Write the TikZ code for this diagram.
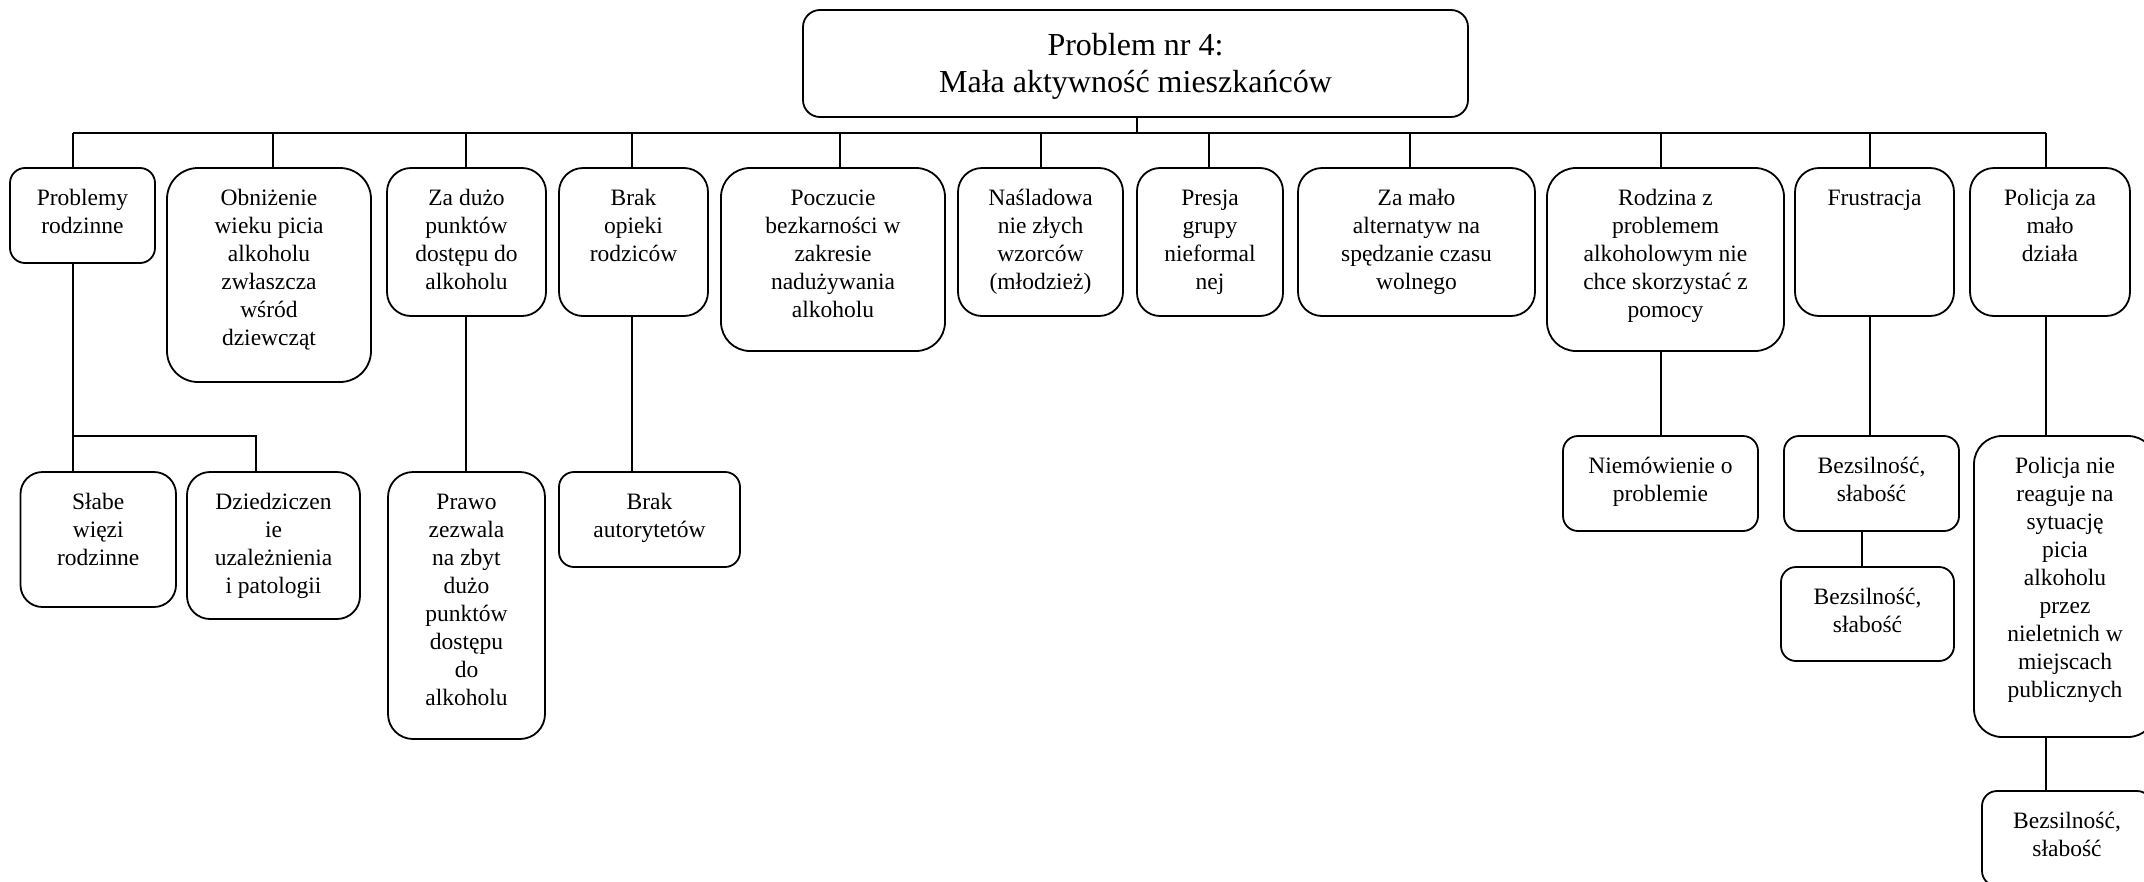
\documentclass[tikz,border=0pt]{standalone}
\usepackage{fontspec}
\setmainfont{Liberation Serif}
\tikzset{
  bx/.style={draw, line width=1.8pt, rounded corners=#1, inner sep=0pt, fill=white,
             font=\fontsize{23.5}{28}\selectfont},
  bx/.default=15pt,
  conn/.style={line width=1.5pt}
}
\newcommand{\bxn}[7]{%
  \node[bx=#7pt] (#1) at ({(#2+#4)/2},{(#3+#5)/2})
   {\parbox[c][\dimexpr #5pt-#3pt\relax][t]{\dimexpr #4pt-#2pt\relax}{\centering\rule{0pt}{37pt}#6}};}
\begin{document}
\begin{tikzpicture}[x=1pt,y=-1pt]
\useasboundingbox (0,0) rectangle (2144,881);
\clip (0,0) rectangle (2144,881);
% top
\node[bx=17pt, font=\fontsize{32}{37}\selectfont] (T) at ({(803+1468)/2},{(10+117)/2})
  {\parbox[c][107pt][t]{665pt}{\centering\rule{0pt}{45pt}Problem nr 4:\\Mała aktywność mieszkańców}};
% level 1
\bxn{b1}{10}{168}{155}{263}{Problemy\\rodzinne}{15}
\bxn{b2}{167}{168}{371}{382}{Obniżenie\\wieku picia\\alkoholu\\zwłaszcza\\wśród\\dziewcząt}{31}
\bxn{b3}{387}{168}{546}{316}{Za dużo\\punktów\\dostępu do\\alkoholu}{24}
\bxn{b4}{559}{168}{708}{316}{Brak\\opieki\\rodziców}{24}
\bxn{b5}{721}{168}{945}{351}{Poczucie\\bezkarności w\\zakresie\\nadużywania\\alkoholu}{29}
\bxn{b6}{958}{168}{1123}{316}{Naśladowa\\nie złych\\wzorców\\(młodzież)}{24}
\bxn{b7}{1137}{168}{1283}{316}{Presja\\grupy\\nieformal\\nej}{23}
\bxn{b8}{1298}{168}{1535}{316}{Za mało\\alternatyw na\\spędzanie czasu\\wolnego}{24}
\bxn{b9}{1547}{168}{1784}{351}{Rodzina z\\problemem\\alkoholowym nie\\chce skorzystać z\\pomocy}{29}
\bxn{b10}{1795}{168}{1954}{316}{Frustracja}{24}
\bxn{b11}{1970}{168}{2130}{316}{Policja za\\mało\\działa}{24}
% level 2
\bxn{c1}{20.5}{472}{176}{607}{Słabe\\więzi\\rodzinne}{22}
\bxn{c2}{187}{472}{360}{619}{Dziedziczen\\ie\\uzależnienia\\i patologii}{23}
\bxn{c3}{388}{472}{545}{739}{Prawo\\zezwala\\na zbyt\\dużo\\punktów\\dostępu\\do\\alkoholu}{25}
\bxn{c4}{559}{472}{740}{567}{Brak\\autorytetów}{15}
\bxn{c9}{1563}{436}{1758}{531}{Niemówienie o\\problemie}{15}
\bxn{c10}{1784}{436}{1959}{531}{Bezsilność,\\słabość}{15}
\bxn{d10}{1781}{567}{1954}{661}{Bezsilność,\\słabość}{15}
\bxn{c11}{1974}{436}{2156}{737}{Policja nie\\reaguje na\\sytuację\\picia\\alkoholu\\przez\\nieletnich w\\miejscach\\publicznych}{28}
\bxn{d11}{1982}{791}{2152}{886}{Bezsilność,\\słabość}{15}
% bus coordinates
\coordinate (s0) at (1137,133);
\coordinate (s1) at (73,133);
\coordinate (s2) at (273,133);
\coordinate (s3) at (466,133);
\coordinate (s4) at (632,133);
\coordinate (s5) at (840,133);
\coordinate (s6) at (1041,133);
\coordinate (s7) at (1209,133);
\coordinate (s8) at (1410,133);
\coordinate (s9) at (1661,133);
\coordinate (s10) at (1870,133);
\coordinate (s11) at (2046,133);
\coordinate (j1) at (73,436);
\coordinate (j2) at (256,436);
\coordinate (k10) at (1862,549);
% connectors
\draw[conn] (T.south -| s0) -- (s0);
\draw[conn] (s1) -- (s11);
\foreach \i in {1,...,11} { \draw[conn] (s\i) -- (s\i |- b\i.north); }
\draw[conn] (b1.south -| j1) -- (c1.north -| j1);
\draw[conn] (j1) -- (j2) -- (c2.north -| j2);
\draw[conn] (b3.south -| s3) -- (c3.north -| s3);
\draw[conn] (b4.south -| s4) -- (c4.north -| s4);
\draw[conn] (b9.south -| s9) -- (c9.north -| s9);
\draw[conn] (b10.south -| s10) -- (c10.north -| s10);
\draw[conn] (c10.south -| k10) -- (d10.north -| k10);
\draw[conn] (b11.south -| s11) -- (c11.north -| s11);
\draw[conn] (c11.south -| s11) -- (d11.north -| s11);
\end{tikzpicture}
\end{document}
